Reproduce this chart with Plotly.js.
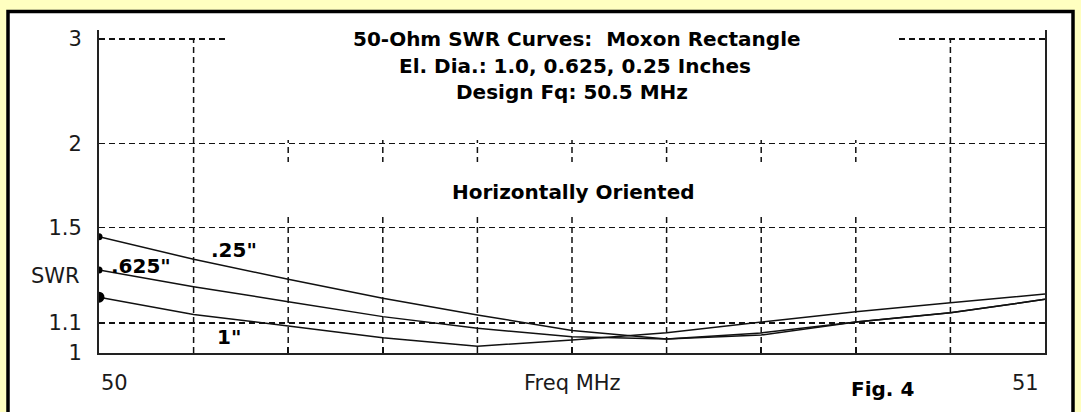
<!DOCTYPE html>
<html>
<head>
<meta charset="utf-8">
<script src="https://cdn.plot.ly/plotly-3.0.1.min.js"></script>
<style>
html,body{margin:0;padding:0;background:#FFFFC0;}
#chart{width:1081px;height:412px;}
</style>
</head>
<body>
<div id="chart"></div>
<script>
// ---- data ----
const freqMHz = [50.0, 50.1, 50.2, 50.3, 50.4, 50.5, 50.6, 50.7, 50.8, 50.9, 51.0];
const swr025  = [1.454, 1.351, 1.266, 1.191, 1.129, 1.074, 1.046, 1.059, 1.104, 1.137, 1.187];
const swr0625 = [1.305, 1.236, 1.178, 1.123, 1.082, 1.053, 1.046, 1.066, 1.104, 1.137, 1.187];
const swr100  = [1.195, 1.131, 1.090, 1.050, 1.022, 1.042, 1.067, 1.103, 1.141, 1.174, 1.207];
const seriesNames = ['.25"', '.625"', '1"'];
const swrTickVals   = [1, 1.1, 1.5, 2, 3];
const swrTickLabels = ['1', '1.1', '1.5', '2', '3'];
const freqGrid = [50.1, 50.2, 50.3, 50.4, 50.5, 50.6, 50.7, 50.8, 50.9];
const xEndLabels = ['50', '51'];
const titleLines = ['50-Ohm SWR Curves:  Moxon Rectangle', 'El. Dia.: 1.0, 0.625, 0.25 Inches', 'Design Fq: 50.5 MHz'];
const subTitle = 'Horizontally Oriented';
const xTitle = 'Freq MHz';
const yTitle = 'SWR';
const figLabel = 'Fig. 4';

// SWR chart scale: linear in reflection coefficient
const rho = s => (s - 1) / (s + 1);

// ---- geometry helpers (pixel -> paper) ----
const W = 1081, H = 412;
const PL = 99, PR = 1045, PT = 30, PB = 353;
const px = x => (x - PL) / (PR - PL);
const py = y => (PB - y) / (PB - PT);

const REG = 'DejaVu Sans, Arial, sans-serif';
const ink = '#000';
const soft = '#1a1a1a';

const lineStyle = {color: '#111', width: 1.5};
const traces = [swr025, swr0625, swr100].map((s, i) => ({
  x: freqMHz, y: s.map(rho), type: 'scatter', mode: 'lines',
  line: lineStyle, name: seriesNames[i], hoverinfo: 'skip'
}));
traces.push({
  x: [freqMHz[0], freqMHz[0]], y: [swr025[0], swr0625[0]].map(rho),
  type: 'scatter', mode: 'markers', marker: {color: '#000', size: 7}, hoverinfo: 'skip'
});
traces.push({
  x: [freqMHz[0]], y: [swr100[0]].map(rho),
  type: 'scatter', mode: 'markers', marker: {color: '#000', size: 11}, hoverinfo: 'skip'
});

const shapes = [];
// outer frame
shapes.push({type: 'rect', xref: 'paper', yref: 'paper', x0: px(8), x1: px(1073), y0: py(420), y1: py(11.5),
  line: {color: '#000', width: 3.5}, fillcolor: '#fff', layer: 'below'});
// vertical dashed grid
freqGrid.forEach(g => shapes.push({type: 'line', xref: 'x', yref: 'y', x0: g, x1: g, y0: 0, y1: rho(3),
  line: {color: '#111', width: 1.5, dash: '6px,4px'}, layer: 'below'}));
// white boxes behind the text blocks
shapes.push({type: 'rect', xref: 'paper', yref: 'paper', x0: px(226), x1: px(899), y0: py(140), y1: py(28),
  line: {width: 0}, fillcolor: '#fff', layer: 'above'});
shapes.push({type: 'rect', xref: 'paper', yref: 'paper', x0: px(250), x1: px(880), y0: py(214), y1: py(162),
  line: {width: 0}, fillcolor: '#fff', layer: 'above'});

const ann = (text, x, y, opts) => Object.assign({
  text, xref: 'paper', yref: 'paper', x: px(x), y: py(y), showarrow: false,
  xanchor: 'center', yanchor: 'middle', font: {family: REG, size: 20, color: ink}
}, opts || {});
const bold = (size) => ({family: REG, size, color: ink, weight: 700});

const annotations = [
  ann(titleLines[0], 577, 39, {font: bold(20)}),
  ann(titleLines[1], 575, 65.5, {font: bold(20)}),
  ann(titleLines[2], 572, 92, {font: bold(20)}),
  ann(subTitle, 573, 192, {font: bold(20)}),
  ann(seriesNames[0], 234, 250, {font: bold(20)}),
  ann(seriesNames[1], 141, 266, {font: bold(20)}),
  ann(seriesNames[2], 229, 337, {font: bold(20)}),
  ann(figLabel, 882, 389, {font: bold(20)}),
  ann(xTitle, 572, 383, {font: {family: REG, size: 21, color: soft}}),
  ann(yTitle, 82, 276, {xanchor: 'right', font: {family: REG, size: 21, color: soft}}),
  {text: xEndLabels[0], xref: 'x', yref: 'paper', x: freqMHz[0], y: py(383), xanchor: 'left', yanchor: 'middle',
   showarrow: false, font: {family: REG, size: 21, color: soft}},
  {text: xEndLabels[1], xref: 'x', yref: 'paper', x: freqMHz[freqMHz.length - 1], y: py(383), xanchor: 'right', yanchor: 'middle',
   xshift: -4, showarrow: false, font: {family: REG, size: 21, color: soft}}
];

const layout = {
  width: W, height: H,
  margin: {l: PL, r: W - PR, t: PT, b: H - PB, pad: 0},
  paper_bgcolor: '#FFFFC0', plot_bgcolor: '#fff',
  showlegend: false,
  xaxis: {range: [50, 51], showgrid: false, zeroline: false, showline: true, linecolor: '#222', linewidth: 2,
    ticks: 'inside', ticklen: 6, tickwidth: 1.5, tickcolor: '#111', tick0: 50, dtick: 0.1, showticklabels: false, fixedrange: true},
  yaxis: {range: [0, (PB - PT) / 628], tickvals: swrTickVals.map(rho), ticktext: swrTickLabels,
    showgrid: true, gridcolor: '#111', gridwidth: 1.5, griddash: '6px,4px', zeroline: false,
    showline: true, mirror: true, linecolor: '#222', linewidth: 2, ticks: '', ticklabelstandoff: 11,
    tickfont: {family: REG, size: 21, color: soft}, fixedrange: true},
  shapes, annotations
};

Plotly.newPlot('chart', traces, layout, {staticPlot: true, displayModeBar: false});
</script>
</body>
</html>
